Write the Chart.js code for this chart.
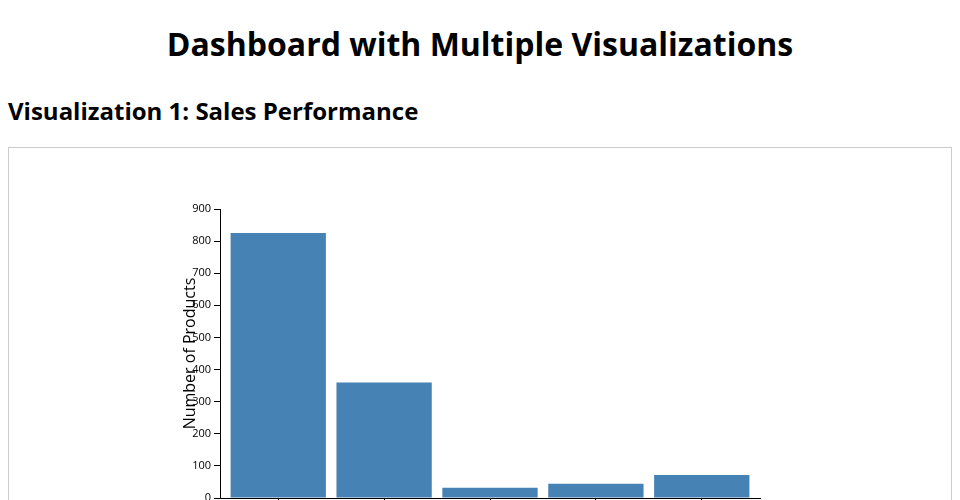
<!DOCTYPE html>
<html>
<head>
<meta charset="utf-8">
<title>Dashboard with Multiple Visualizations</title>
<script src="https://cdn.jsdelivr.net/npm/chart.js@4/dist/chart.umd.min.js"></script>
<style>
    body {
        margin: 0;
        font-family: 'Open Sans', sans-serif;
        color: #000;
        background: #fff;
    }
    h1 {
        margin: 22px 0 0;
        font-size: 32px;
        line-height: 44px;
        text-align: center;
    }
    h2 {
        margin: 29px 8px 0;
        font-size: 24px;
        line-height: 32px;
    }
    .chart-box {
        margin: 20px 8px 0;
        border: 1px solid #ccc;
    }
    .chart-box canvas {
        display: block;
    }
</style>
</head>
<body>
<h1>Dashboard with Multiple Visualizations</h1>
<h2>Visualization 1: Sales Performance</h2>
<div class="chart-box">
    <canvas id="chart1" width="942" height="440"></canvas>
</div>

<script>
// data
var categories = ['Electronics', 'Clothing', 'Home', 'Books', 'Toys'];
var productCounts = [825, 360, 32, 44, 72];
var yTicks = [0, 100, 200, 300, 400, 500, 600, 700, 800, 900];

var barColor = '#4682b4';

// points on a numeric x axis so the band padding matches the original
var points = [];
for (var i = 0; i < categories.length; i++) {
    points.push({ x: i, y: productCounts[i] });
}

const options = {
    responsive: false,
    animation: false,
    devicePixelRatio: 1,
    layout: {
        padding: { top: 61, left: 172, right: 191, bottom: 50 }
    },
    plugins: {
        legend: { display: false },
        tooltip: { enabled: false }
    },
    scales: {
        x: {
            type: 'linear',
            offset: false,
            min: -0.55,
            max: categories.length - 0.45,
            afterFit: function(scale) { scale.height = 40; },
            afterBuildTicks: function(scale) {
                scale.ticks = scale.ticks.filter(function(t) {
                    return Number.isInteger(t.value) && t.value >= 0 && t.value < categories.length;
                });
            },
            ticks: {
                stepSize: 1,
                includeBounds: false,
                autoSkip: false,
                maxRotation: 0,
                color: '#000',
                font: { family: 'Open Sans', size: 11 },
                callback: function(v) { return categories[v]; }
            },
            grid: {
                offset: false,
                drawOnChartArea: false,
                drawTicks: true,
                tickLength: 6,
                color: '#000'
            },
            border: { color: '#000' }
        },
        y: {
            min: 0,
            max: 900,
            afterFit: function(scale) { scale.width = 39; },
            afterBuildTicks: function(scale) {
                scale.ticks = yTicks.map(function(v) { return { value: v }; });
            },
            ticks: {
                color: '#000',
                padding: 3,
                font: { family: 'Open Sans', size: 11 }
            },
            grid: {
                drawOnChartArea: false,
                drawTicks: true,
                tickLength: 6,
                color: '#000'
            },
            border: { color: '#000' },
            title: {
                display: true,
                text: 'Number of Products',
                color: '#000',
                padding: 0,
                font: { family: 'Open Sans', size: 16 }
            }
        }
    }
};

const ctx = document.getElementById('chart1').getContext('2d');
const myChart = new Chart(ctx, {
    type: 'bar',
    data: {
        datasets: [{
            label: 'Number of Products',
            data: points,
            backgroundColor: barColor,
            borderWidth: 0,
            categoryPercentage: 0.9,
            barPercentage: 1
        }]
    },
    options: options
});
</script>
</body>
</html>
